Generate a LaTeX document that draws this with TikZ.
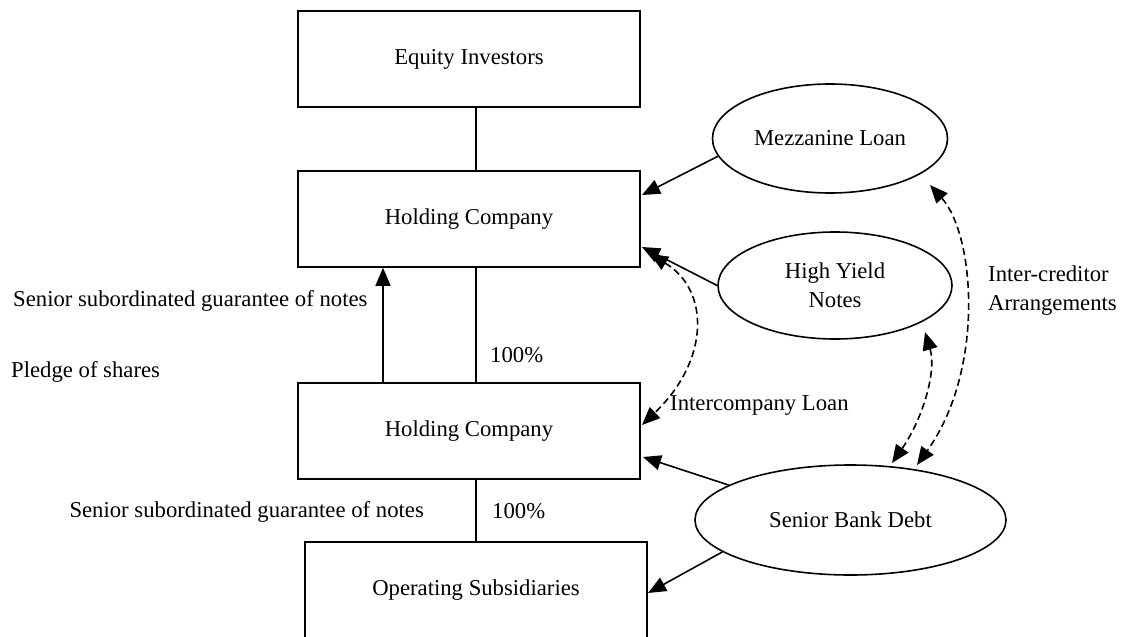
\documentclass[tikz,border=0pt]{standalone}
\usepackage{fontspec}
\setmainfont{Liberation Serif}
\usetikzlibrary{shapes.geometric,arrows.meta}
\begin{document}
\begin{tikzpicture}[x=1pt,y=-1pt,
  every node/.style={font=\fontsize{22.7}{29}\selectfont},
  boxnode/.style={draw,rectangle,line width=1.6pt,minimum width=342pt,minimum height=96pt,inner sep=0pt},
  ellnode/.style={draw,ellipse,line width=1.6pt,inner sep=0pt,align=center},
  lbl/.style={inner sep=0pt},
  conn/.style={line width=1.6pt},
  arr/.style={line width=1.6pt,-{Triangle[length=18pt,width=15pt]}},
  dasharr/.style={line width=1.6pt,dash pattern=on 7pt off 4pt,{Triangle[length=18pt,width=15pt]}-{Triangle[length=18pt,width=15pt]}}]
\useasboundingbox (0,0) rectangle (1127,637);
\begin{scope}
\clip (0,0) rectangle (1127,637);
% boxes
\node[boxnode] (EI) at (469,59) {Equity Investors};
\node[boxnode] (HC1) at (469,219) {Holding Company};
\node[boxnode] (HC2) at (469,431) {Holding Company};
\node[boxnode] (OS) at (476,590) {Operating Subsidiaries};
% ellipses
\node[ellnode,minimum width=235pt,minimum height=109pt] (MZ) at (830,138.5) {Mezzanine Loan};
\node[ellnode,minimum width=234pt,minimum height=107pt] (HY) at (835,285.5) {High Yield\\Notes};
\node[ellnode,minimum width=311pt,minimum height=110pt] (SB) at (850.5,520) {Senior Bank Debt};
% labels
\node[lbl,anchor=west] (L1) at (13,301) {Senior subordinated guarantee of notes};
\node[lbl,anchor=west] (L2) at (11,372) {Pledge of shares};
\node[lbl,anchor=west] (L3) at (490,355) {100\%};
\node[lbl,anchor=west] (L4) at (492,511) {100\%};
\node[lbl,anchor=east] (L5) at (424,512) {Senior subordinated guarantee of notes};
\node[lbl,anchor=west] (L6) at (670,406) {Intercompany Loan};
\node[lbl,anchor=west,align=left] (L7) at (988,291) {Inter-creditor\\Arrangements};
% vertical connectors
\draw[conn] (EI.south -| OS.north) -- (HC1.north -| OS.north);
\draw[conn] (HC1.south -| OS.north) -- (HC2.north -| OS.north);
\draw[conn] (HC2.south -| OS.north) -- (OS.north);
\coordinate (ax) at (383,0);
\draw[arr] (HC2.north -| ax) -- (HC1.south -| ax);
% arrows from lenders
\coordinate (t1) at (642,195);
\coordinate (t2) at (642,247);
\coordinate (t3) at (643,457);
\coordinate (t4) at (648,593);
\draw[arr] (MZ.189) -- (t1);
\draw[arr] (HY.west) -- (t2);
\draw[arr] (SB.164) -- (t3);
\draw[arr] (SB.194) -- (t4);
% dashed curves
\coordinate (d1) at (650,254);
\coordinate (d2) at (642,425);
\draw[dasharr] (d1) .. controls (710,290) and (710,360) .. (d2);
\coordinate (d3) at (925,332);
\coordinate (d4) at (892,463);
\draw[dasharr] (d3) .. controls (937,372) and (922,420) .. (d4);
\coordinate (d5) at (930,185);
\coordinate (d6) at (917,465);
\draw[dasharr] (d5) .. controls (975,235) and (985,370) .. (d6);
\end{scope}
\end{tikzpicture}
\end{document}
